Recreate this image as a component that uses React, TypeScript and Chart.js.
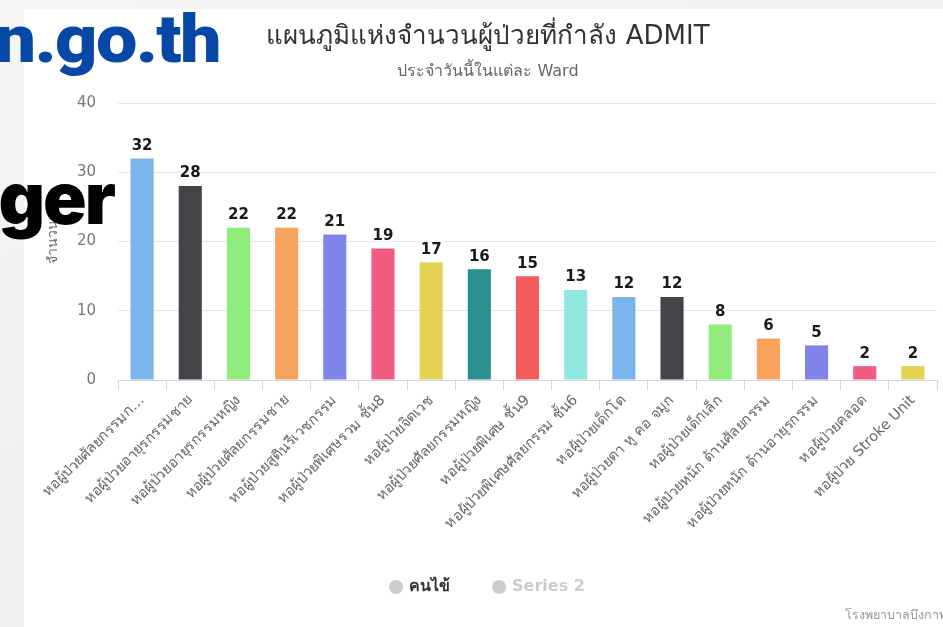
import React, { useEffect, useRef } from 'react';
import { Chart, registerables } from 'chart.js';

Chart.register(...registerables);

const categories = [
  'หอผู้ป่วยศัลยกรรมก…',
  'หอผู้ป่วยอายุรกรรมชาย',
  'หอผู้ป่วยอายุรกรรมหญิง',
  'หอผู้ป่วยศัลยกรรมชาย',
  'หอผู้ป่วยสูตินรีเวชกรรม',
  'หอผู้ป่วยพิเศษรวม ชั้น8',
  'หอผู้ป่วยจิตเวช',
  'หอผู้ป่วยศัลยกรรมหญิง',
  'หอผู้ป่วยพิเศษ ชั้น9',
  'หอผู้ป่วยพิเศษศัลยกรรม ชั้น6',
  'หอผู้ป่วยเด็กโต',
  'หอผู้ป่วยตา หู คอ จมูก',
  'หอผู้ป่วยเด็กเล็ก',
  'หอผู้ป่วยหนัก ด้านศัลยกรรม',
  'หอผู้ป่วยหนัก ด้านอายุรกรรม',
  'หอผู้ป่วยคลอด',
  'หอผู้ป่วย Stroke Unit',
];
const patients = [32, 28, 22, 22, 21, 19, 17, 16, 15, 13, 12, 12, 8, 6, 5, 2, 2];
const series2: number[] = [];
const barColors = [
  '#7cb5ec', '#434348', '#90ed7d', '#f7a35c', '#8085e9', '#f15c80', '#e4d354', '#2b908f', '#f45b5b', '#91e8e1',
  '#7cb5ec', '#434348', '#90ed7d', '#f7a35c', '#8085e9', '#f15c80', '#e4d354',
];
const seriesNames = ['คนไข้', 'Series 2'];
const yMin = 0;
const yMax = 40;
const yStep = 10;
const titleText = 'แผนภูมิแห่งจำนวนผู้ป่วยที่กำลัง ADMIT';
const subtitleText = 'ประจำวันนี้ในแต่ละ Ward';
const yTitleText = 'จำนวน';
const creditText = 'โรงพยาบาลบึงกาฬ';

const FONT = '"DejaVu Sans", "Noto Sans", sans-serif';

const dataLabelPlugin = {
  id: 'dataLabels',
  afterDatasetsDraw(chart: any) {
    const ctx = chart.ctx;
    const meta = chart.getDatasetMeta(0);
    if (!meta || meta.hidden) return;
    ctx.save();
    ctx.font = `bold 15px ${FONT}`;
    ctx.textAlign = 'center';
    ctx.textBaseline = 'bottom';
    ctx.lineJoin = 'round';
    meta.data.forEach((el: any, i: number) => {
      const v = chart.data.datasets[0].data[i];
      const t = String(v);
      ctx.lineWidth = 3;
      ctx.strokeStyle = '#ffffff';
      ctx.strokeText(t, el.x, el.y - 5);
      ctx.fillStyle = '#1a1a1a';
      ctx.fillText(t, el.x, el.y - 5);
    });
    ctx.restore();
  },
};

const creditPlugin = {
  id: 'credit',
  afterDraw(chart: any) {
    const ctx = chart.ctx;
    ctx.save();
    ctx.font = `12.5px ${FONT}`;
    ctx.fillStyle = '#999999';
    ctx.textAlign = 'left';
    ctx.textBaseline = 'middle';
    ctx.fillText(creditText, 821, 607);
    ctx.restore();
  },
};

function BarChart() {
  const ref = useRef<HTMLCanvasElement | null>(null);
  useEffect(() => {
    if (!ref.current) return;
    const chart = new Chart(ref.current, {
      type: 'bar',
      data: {
        labels: categories,
        datasets: [
          {
            label: seriesNames[0],
            data: patients,
            backgroundColor: barColors,
            borderWidth: 0,
            categoryPercentage: 1,
            barPercentage: 0.48,
          },
          {
            label: seriesNames[1],
            data: series2,
            backgroundColor: '#cccccc',
            hidden: true,
            categoryPercentage: 1,
            barPercentage: 0.48,
          },
        ],
      },
      options: {
        responsive: false,
        animation: false,
        devicePixelRatio: 1,
        events: [],
        layout: { padding: { left: 15, right: 15, top: 0, bottom: 22 } },
        plugins: {
          tooltip: { enabled: false },
          title: {
            display: true,
            text: titleText,
            color: '#333333',
            font: { family: FONT, size: 26, weight: 'normal', lineHeight: 1.2 },
            padding: { top: 12.4, bottom: 0 },
          },
          subtitle: {
            display: true,
            text: subtitleText,
            color: '#666666',
            font: { family: FONT, size: 16, weight: 'normal', lineHeight: 1.2 },
            padding: { top: 9.8, bottom: 21.4 },
          },
          legend: {
            display: true,
            position: 'bottom',
            onClick: () => {},
            labels: {
              usePointStyle: true,
              pointStyle: 'circle',
              boxWidth: 10,
              boxHeight: 10,
              padding: 44,
              font: { family: FONT, size: 16, weight: 'bold' },
              generateLabels: (ch: any) =>
                ch.data.datasets.map((ds: any, i: number) => ({
                  text: ds.label,
                  fillStyle: '#cccccc',
                  strokeStyle: '#cccccc',
                  lineWidth: 0,
                  hidden: false,
                  pointStyle: 'circle',
                  fontColor: ds.hidden ? '#cccccc' : '#333333',
                  datasetIndex: i,
                })),
            },
          },
        },
        scales: {
          x: {
            offset: true,
            grid: {
              offset: true,
              drawOnChartArea: false,
              drawTicks: true,
              tickLength: 10,
              color: '#ccd6eb',
            },
            border: { display: true, color: '#ccd6eb' },
            ticks: {
              autoSkip: false,
              minRotation: 45,
              maxRotation: 45,
              color: '#666666',
              padding: 2,
              font: { family: FONT, size: 14.5 },
            },
            afterFit: (s: any) => {
              s.height = 155;
            },
          },
          y: {
            min: yMin,
            max: yMax,
            ticks: {
              stepSize: yStep,
              color: '#777777',
              padding: 22,
              font: { family: FONT, size: 15 },
            },
            grid: { color: '#e6e6e6', drawTicks: false },
            border: { display: false },
            title: {
              display: true,
              text: yTitleText,
              color: '#666666',
              font: { family: FONT, size: 14 },
              padding: { top: 6, bottom: 0 },
            },
            afterFit: (s: any) => {
              s.width = 79;
            },
          },
        },
      },
      plugins: [dataLabelPlugin, creditPlugin],
    } as any);
    return () => chart.destroy();
  }, []);
  return <canvas ref={ref} width={928} height={618} style={{ display: 'block' }} />;
}

export default function App() {
  return (
    <div
      style={{
        position: 'fixed',
        left: 0,
        top: 0,
        width: 943,
        height: 627,
        overflow: 'hidden',
        background: 'linear-gradient(160deg, #f6f6f6 0%, #efefef 60%, #f5f5f5 100%)',
      }}
    >
      <div style={{ position: 'absolute', left: 24, top: 9, width: 928, height: 618, background: '#ffffff' }}>
        <BarChart />
      </div>
      <div
        style={{
          position: 'absolute',
          right: 723,
          top: 6,
          fontFamily: 'Roboto, sans-serif',
          fontWeight: 900,
          fontSize: 67,
          lineHeight: '67px',
          color: '#0747a6',
          whiteSpace: 'nowrap',
          letterSpacing: -1.5,
          transform: 'scaleX(1.1)',
          transformOrigin: 'right center',
        }}
      >
        n.go.th
      </div>
      <div
        style={{
          position: 'absolute',
          right: 829,
          top: 162,
          fontFamily: 'Inter, Roboto, sans-serif',
          fontWeight: 900,
          fontSize: 72,
          lineHeight: '72px',
          color: '#000000',
          whiteSpace: 'nowrap',
          letterSpacing: -2,
        }}
      >
        ger
      </div>
    </div>
  );
}
